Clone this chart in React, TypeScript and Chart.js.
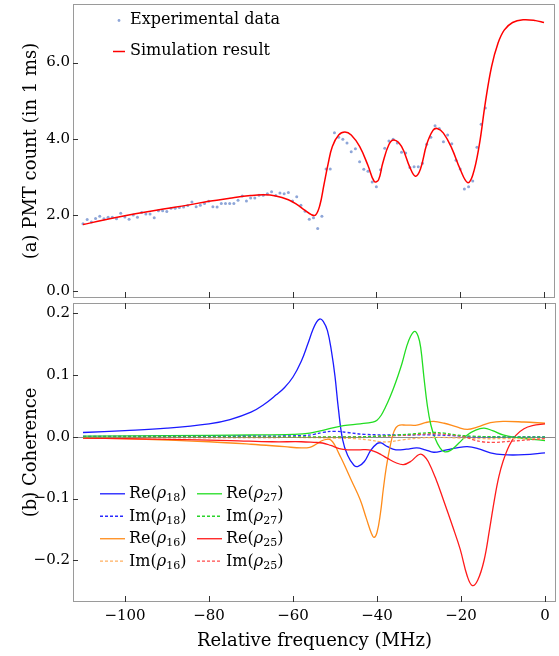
import React, { useEffect, useRef } from 'react';
import { Chart, registerables } from 'chart.js';

Chart.register(...registerables);

const FONT = "'DejaVu Serif', serif";

// shared frequency axis (MHz)
const freqMin = -112.38;
const freqMax = 2.62;
const freqTicks = [-100, -80, -60, -40, -20, 0];
const freqTitle = 'Relative frequency (MHz)';

// ---------- panel (a) ----------
const countMin = -0.176;
const countMax = 7.536;
const countTicks = [0, 2, 4, 6];
const countTitle = '(a) PMT count (in 1 ms)';
const expLabel = 'Experimental data';
const simLabel = 'Simulation result';

const expFreq = [
  -110, -109, -108, -107, -106, -105, -104, -103, -102, -101,
  -100, -99, -98, -97, -96, -95, -94, -93, -92, -91,
  -90, -89, -88, -87, -86, -85, -84, -83, -82, -81,
  -80, -79, -78, -77, -76, -75, -74, -73, -72, -71,
  -70, -69, -68, -67, -66, -65, -64, -63, -62, -61,
  -60, -59, -58, -57, -56, -55, -54, -53, -52, -51,
  -50, -49, -48, -47, -46, -45, -44, -43, -42, -41,
  -40, -39, -38, -37, -36, -35, -34, -33, -32, -31,
  -30, -29, -28, -27, -26, -25, -24, -23, -22, -21,
  -20, -19, -18, -17, -16, -15, -14,
];
const expCount = [
  1.77, 1.88, 1.82, 1.91, 1.97, 1.90, 1.94, 1.94, 1.90, 2.05,
  1.95, 1.89, 2.00, 1.94, 2.07, 2.03, 2.03, 1.93, 2.11, 2.11,
  2.09, 2.18, 2.18, 2.20, 2.21, 2.25, 2.34, 2.22, 2.26, 2.30,
  2.36, 2.22, 2.21, 2.30, 2.30, 2.30, 2.30, 2.39, 2.50, 2.37,
  2.45, 2.45, 2.52, 2.52, 2.56, 2.61, 2.51, 2.58, 2.56, 2.59,
  2.37, 2.48, 2.26, 2.10, 1.89, 1.93, 1.65, 1.97, 3.21, 3.21,
  4.16, 4.04, 3.99, 3.89, 3.66, 3.74, 3.40, 3.20, 3.15, 2.87,
  2.74, 3.19, 3.75, 3.94, 3.99, 3.89, 3.65, 3.63, 3.25, 3.27,
  3.27, 3.36, 3.86, 4.04, 4.34, 4.27, 3.92, 4.10, 3.87, 3.44,
  3.21, 2.68, 2.74, 2.89, 3.78, 4.38, 4.81,
];

const simFreq = [
  -110, -105, -100, -95, -90, -85, -80, -75, -70, -67, -64, -61, -59, -57,
  -55.5, -54.5, -53.5, -52.5, -51.5, -50.5, -49, -47.5, -46, -44, -42,
  -40.5, -39.5, -38.5, -37, -35.8, -34, -32, -30.7, -29.5, -28, -26.5,
  -25.5, -24, -22, -20, -18.2, -17, -15.5, -14, -12.5, -11, -9.5, -7.5,
  -5, -2, 0,
];
const simCount = [
  1.75, 1.87, 1.98, 2.08, 2.17, 2.26, 2.36, 2.44, 2.51, 2.53, 2.50, 2.40,
  2.28, 2.12, 2.01, 2.0, 2.25, 2.8, 3.35, 3.8, 4.1, 4.18, 4.1, 3.8, 3.3,
  2.88, 2.92, 3.35, 3.85, 3.97, 3.8, 3.25, 3.02, 3.2, 3.85, 4.22, 4.27,
  4.15, 3.75, 3.2, 2.85, 3.05, 3.8, 4.95, 5.9, 6.5, 6.85, 7.05, 7.12, 7.1,
  7.05,
];

// ---------- panel (b) ----------
const cohMin = -0.2677;
const cohMax = 0.2169;
const cohTicks = [-0.2, -0.1, 0, 0.1, 0.2];
const cohTitle = '(b) Coherence';

const re18Freq = [-110, -100, -90, -80, -75, -70, -67, -64, -62, -60, -58, -56.5, -55.3, -54.4, -53.6, -52.8, -51.8, -50.8, -50, -49.2, -48.2, -47, -45.5, -44.5, -43, -41.5, -40, -39, -37.5, -35.5, -33, -30.5, -28.5, -26.5, -24, -21, -18.5, -16, -13, -10, -5, 0];
const re18 = [0.007, 0.010, 0.014, 0.021, 0.028, 0.040, 0.052, 0.068, 0.080, 0.097, 0.123, 0.150, 0.173, 0.186, 0.191, 0.187, 0.172, 0.137, 0.098, 0.046, -0.004, -0.030, -0.046, -0.048, -0.040, -0.022, -0.011, -0.010, -0.016, -0.021, -0.020, -0.018, -0.021, -0.025, -0.022, -0.018, -0.016, -0.019, -0.026, -0.029, -0.029, -0.026];

const im18Freq = [-110, -70, -58, -55, -53, -50, -47, -43, -35, -27, -22, -18, -10, 0];
const im18 = [0.0005, 0.001, 0.002, 0.004, 0.007, 0.009, 0.007, 0.004, 0.003, 0.003, 0.002, 0.000, 0.000, 0.000];

const re16Freq = [-110, -95, -80, -70, -62, -58, -56, -54.5, -53, -52, -51, -50, -49, -48, -46, -44, -42.5, -41.3, -40.7, -40, -39.2, -38.5, -37.8, -37, -36, -35, -33, -30.5, -28.5, -26.5, -24, -21, -18.5, -16, -13, -10, -5, 0];
const re16 = [-0.002, -0.004, -0.008, -0.012, -0.016, -0.018, -0.017, -0.012, -0.006, -0.004, -0.005, -0.014, -0.028, -0.042, -0.072, -0.102, -0.133, -0.157, -0.163, -0.155, -0.125, -0.085, -0.050, -0.020, 0.008, 0.018, 0.019, 0.019, 0.023, 0.025, 0.022, 0.016, 0.012, 0.016, 0.023, 0.025, 0.024, 0.022];

const im16Freq = [-110, -60, -50, -45, -42, -39, -37, -34, -30, -25, -20, -15, -10, 0];
const im16 = [-0.001, -0.001, -0.002, -0.003, -0.005, -0.008, -0.008, -0.005, -0.002, -0.001, -0.002, -0.003, -0.003, -0.003];

const re27Freq = [-110, -90, -70, -60, -56, -52, -48, -44, -41, -40, -39, -38, -37, -36, -35, -34, -33, -32, -31, -30.2, -29.6, -28.8, -28, -27.2, -26.2, -25, -24, -22.5, -20.5, -18.5, -16.5, -14.5, -12.5, -10, -7, -3, 0];
const re27 = [0.001, 0.002, 0.003, 0.004, 0.006, 0.012, 0.018, 0.021, 0.024, 0.027, 0.035, 0.048, 0.063, 0.080, 0.099, 0.120, 0.145, 0.163, 0.171, 0.163, 0.145, 0.095, 0.050, 0.020, -0.002, -0.018, -0.024, -0.022, -0.010, 0.003, 0.011, 0.014, 0.010, 0.003, -0.001, -0.004, -0.006];

const im27Freq = [-110, -45, -40, -35, -31, -27, -24, -21, -17, -10, 0];
const im27 = [0, 0, 0.001, 0.003, 0.005, 0.007, 0.006, 0.003, 0.001, 0, 0];

const re25Freq = [-110, -90, -75, -65, -58, -55, -53, -51, -49, -47, -44, -42, -40.5, -39, -37.5, -35.5, -33.7, -32, -30.5, -29.6, -28.8, -27.8, -26, -24.2, -22, -20.2, -18.5, -17.3, -16, -14.5, -13.2, -12, -11, -10, -8.5, -7, -5, -3, 0];
const re25 = [-0.002, -0.004, -0.006, -0.008, -0.008, -0.009, -0.010, -0.014, -0.019, -0.021, -0.021, -0.021, -0.024, -0.029, -0.035, -0.042, -0.045, -0.040, -0.031, -0.028, -0.031, -0.040, -0.068, -0.102, -0.145, -0.182, -0.226, -0.241, -0.232, -0.200, -0.150, -0.100, -0.065, -0.040, -0.014, 0.002, 0.013, 0.018, 0.021];

const im25Freq = [-110, -60, -45, -35, -30, -26, -22, -19, -17, -15, -12, -8, -4, 0];
const im25 = [-0.001, -0.001, 0, 0.002, 0.004, 0.005, 0.003, 0, -0.005, -0.008, -0.009, -0.007, -0.005, -0.003];

// legend entries for panel (b), column-wise
const cohParts = ['Re', 'Im', 'Re', 'Im', 'Re', 'Im', 'Re', 'Im'];
const cohSubs = ['18', '18', '16', '16', '27', '27', '25', '25'];
const cohColors = ['#1a1aff', '#2a2aff', '#ff8c1a', '#ffb060', '#22dd22', '#2ad42a', '#ff1a1a', '#ff4a4a'];
const cohDashed = [false, true, false, true, false, true, false, true];

const expColor = '#8ea6d8';
const simColor = '#ff0000';

const pts = (xs: number[], ys: number[]) => xs.map((x, i) => ({ x, y: ys[i] }));
const minus = (s: string) => s.replace('-', '\u2212');

function drawFrame(chart: any, xTop: boolean, xBottom: boolean, yTicks: number[]) {
  const { ctx, chartArea: a, scales } = chart;
  const x = scales.x;
  const y = scales.y;
  ctx.save();
  ctx.strokeStyle = '#9a9a9a';
  ctx.lineWidth = 1;
  ctx.strokeRect(a.left + 0.5, a.top + 0.5, a.right - a.left - 1, a.bottom - a.top - 1);
  ctx.strokeStyle = '#333';
  ctx.beginPath();
  for (const v of freqTicks) {
    const px = Math.round(x.getPixelForValue(v)) + 0.5;
    if (xBottom) { ctx.moveTo(px, a.bottom); ctx.lineTo(px, a.bottom - 6); }
    if (xTop) { ctx.moveTo(px, a.top); ctx.lineTo(px, a.top + 6); }
  }
  for (const v of yTicks) {
    const py = Math.round(y.getPixelForValue(v)) + 0.5;
    ctx.moveTo(a.left, py); ctx.lineTo(a.left + 5, py);
  }
  ctx.stroke();
  ctx.restore();
}

const topPlugin = {
  id: 'topDecor',
  afterDraw(chart: any) {
    drawFrame(chart, false, true, countTicks);
    const ctx = chart.ctx;
    ctx.save();
    ctx.fillStyle = expColor;
    ctx.beginPath(); ctx.arc(119, 20.5, 1.4, 0, Math.PI * 2); ctx.fill();
    ctx.strokeStyle = simColor; ctx.lineWidth = 1.5;
    ctx.beginPath(); ctx.moveTo(113, 51.5); ctx.lineTo(125, 51.5); ctx.stroke();
    ctx.fillStyle = '#000';
    ctx.font = `16px ${FONT}`;
    ctx.textAlign = 'left'; ctx.textBaseline = 'alphabetic';
    ctx.fillText(expLabel, 130, 24);
    ctx.fillText(simLabel, 130, 55);
    ctx.restore();
  },
};

const bottomPlugin = {
  id: 'botDecor',
  beforeDatasetsDraw(chart: any) {
    const { ctx, chartArea: a, scales } = chart;
    const py = Math.round(scales.y.getPixelForValue(0)) + 0.5;
    ctx.save();
    ctx.strokeStyle = '#8c8c8c'; ctx.lineWidth = 1;
    ctx.beginPath(); ctx.moveTo(a.left, py); ctx.lineTo(a.right, py); ctx.stroke();
    ctx.restore();
  },
  afterDraw(chart: any) {
    drawFrame(chart, true, true, cohTicks);
    const ctx = chart.ctx;
    ctx.save();
    const base0 = 196.3;
    const step = 22.47;
    for (let i = 0; i < cohParts.length; i++) {
      const col = Math.floor(i / 4);
      const row = i % 4;
      const x0 = col === 0 ? 100 : 197;
      const by = base0 + row * step;
      ctx.strokeStyle = cohColors[i];
      ctx.lineWidth = 1.3;
      ctx.setLineDash(cohDashed[i] ? [3, 2] : []);
      ctx.beginPath(); ctx.moveTo(x0, by - 4.5); ctx.lineTo(x0 + 25, by - 4.5); ctx.stroke();
      ctx.setLineDash([]);
      ctx.fillStyle = '#000';
      ctx.textAlign = 'left'; ctx.textBaseline = 'alphabetic';
      let tx = x0 + 29;
      ctx.font = `16px ${FONT}`;
      const pre = cohParts[i] + '(';
      ctx.fillText(pre, tx, by); tx += ctx.measureText(pre).width;
      ctx.font = `italic 16px ${FONT}`;
      ctx.fillText('\u03C1', tx, by); tx += ctx.measureText('\u03C1').width;
      ctx.font = `11px ${FONT}`;
      ctx.fillText(cohSubs[i], tx, by + 3); tx += ctx.measureText(cohSubs[i]).width;
      ctx.font = `16px ${FONT}`;
      ctx.fillText(')', tx, by);
    }
    ctx.restore();
  },
};

const tickFont = { family: FONT, size: 15 };
const titleFont = { family: FONT, size: 18, lineHeight: 1 };

export default function App() {
  const topRef = useRef<HTMLCanvasElement>(null);
  const botRef = useRef<HTMLCanvasElement>(null);

  useEffect(() => {
    Chart.defaults.font.family = FONT;
    const yAfterFit = (s: any) => { s.width = 73; s.paddingTop = 0; s.paddingBottom = 0; };

    const chartA = new Chart(topRef.current as HTMLCanvasElement, {
      type: 'line',
      data: {
        datasets: [
          {
            label: simLabel,
            data: pts(simFreq, simCount),
            borderColor: simColor,
            borderWidth: 1.5,
            pointRadius: 0,
            tension: 0.4,
            fill: false,
          },
          {
            label: expLabel,
            data: pts(expFreq, expCount),
            showLine: false,
            pointRadius: 1.5,
            pointBackgroundColor: expColor,
            pointBorderWidth: 0,
            borderColor: expColor,
          },
        ],
      } as any,
      options: {
        animation: false,
        responsive: false,
        devicePixelRatio: 1,
        layout: { padding: { top: 4, right: 3, bottom: 0, left: 0 } },
        plugins: { legend: { display: false }, tooltip: { enabled: false } },
        scales: {
          x: { type: 'linear', display: false, min: freqMin, max: freqMax },
          y: {
            type: 'linear',
            min: countMin,
            max: countMax,
            afterFit: yAfterFit,
            afterBuildTicks: (s: any) => { s.ticks = countTicks.map((v) => ({ value: v })); },
            grid: { display: false, drawTicks: false },
            border: { display: false },
            ticks: { padding: 3, color: '#000', font: tickFont, callback: (v: any) => Number(v).toFixed(1) },
            title: { display: true, text: countTitle, color: '#000', font: titleFont, padding: { top: 22, bottom: 0 } },
          },
        },
      } as any,
      plugins: [topPlugin],
    });

    const cohSeries = [
      { f: im27Freq, v: im27, c: 5 },
      { f: im25Freq, v: im25, c: 7 },
      { f: im18Freq, v: im18, c: 1 },
      { f: im16Freq, v: im16, c: 3 },
      { f: re25Freq, v: re25, c: 6 },
      { f: re27Freq, v: re27, c: 4 },
      { f: re16Freq, v: re16, c: 2 },
      { f: re18Freq, v: re18, c: 0 },
    ];

    const chartB = new Chart(botRef.current as HTMLCanvasElement, {
      type: 'line',
      data: {
        datasets: cohSeries.map((s) => ({
          label: cohParts[s.c] + '(\u03C1' + cohSubs[s.c] + ')',
          data: pts(s.f, s.v),
          borderColor: cohColors[s.c],
          borderWidth: 1.3,
          borderDash: cohDashed[s.c] ? [3, 2] : [],
          pointRadius: 0,
          tension: 0.4,
          fill: false,
        })),
      } as any,
      options: {
        animation: false,
        responsive: false,
        devicePixelRatio: 1,
        layout: { padding: { top: 1, right: 3, bottom: 0, left: 0 } },
        plugins: { legend: { display: false }, tooltip: { enabled: false } },
        scales: {
          x: {
            type: 'linear',
            min: freqMin,
            max: freqMax,
            afterFit: (s: any) => { s.height = 54; s.paddingLeft = 0; s.paddingRight = 0; },
            afterBuildTicks: (s: any) => { s.ticks = freqTicks.map((v) => ({ value: v })); },
            grid: { display: false, drawTicks: false },
            border: { display: false },
            ticks: { padding: 5, color: '#000', font: tickFont, maxRotation: 0, callback: (v: any) => minus(String(v)) },
            title: { display: true, text: freqTitle, color: '#000', font: titleFont, padding: { top: 0, bottom: 6 } },
          },
          y: {
            type: 'linear',
            min: cohMin,
            max: cohMax,
            afterFit: yAfterFit,
            afterBuildTicks: (s: any) => { s.ticks = cohTicks.map((v) => ({ value: v })); },
            grid: { display: false, drawTicks: false },
            border: { display: false },
            ticks: {
              padding: 3, color: '#000', font: tickFont,
              callback: (v: any) => (Math.abs(Number(v)) < 1e-9 ? '0.0' : minus(Number(v).toFixed(1))),
            },
            title: { display: true, text: cohTitle, color: '#000', font: titleFont, padding: { top: 22, bottom: 0 } },
          },
        },
      } as any,
      plugins: [bottomPlugin],
    });

    return () => { chartA.destroy(); chartB.destroy(); };
  }, []);

  return (
    <div style={{ position: 'fixed', left: 0, top: 0, width: 559, height: 656, background: '#fff' }}>
      <canvas ref={topRef} width={559} height={302} style={{ position: 'absolute', left: 0, top: 0, width: 559, height: 302 }} />
      <canvas ref={botRef} width={559} height={354} style={{ position: 'absolute', left: 0, top: 302, width: 559, height: 354 }} />
    </div>
  );
}
